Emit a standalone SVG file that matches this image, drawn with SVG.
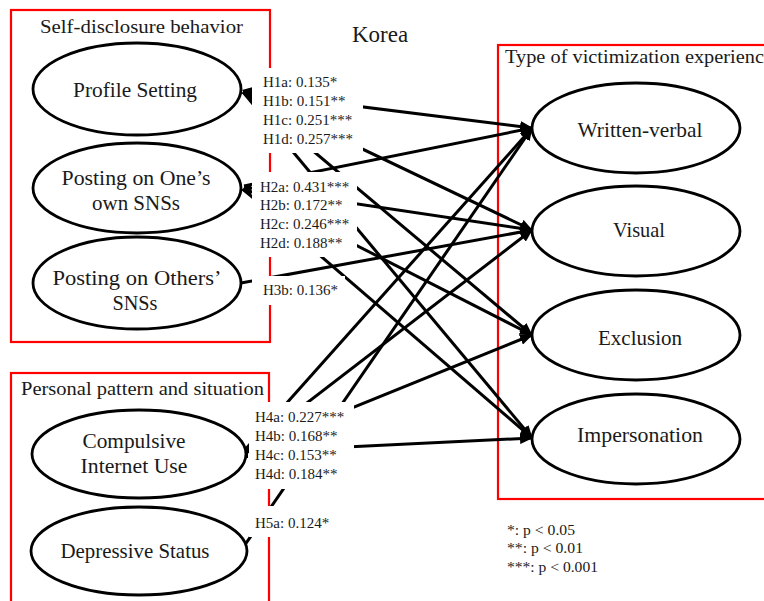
<svg xmlns="http://www.w3.org/2000/svg" width="764" height="601" viewBox="0 0 764 601">
<style>
text{font-family:"Liberation Serif","DejaVu Serif",serif;fill:#1a1a1a}
.box{fill:none;stroke:#ff0000;stroke-width:2.2}
.node{fill:#fff;stroke:#000;stroke-width:2.8}
.nt{font-size:21px;text-anchor:middle}
.gt{font-size:19px}
.lb{font-size:15px}
.lbg{fill:#fff}
.ln{stroke:#000;stroke-width:3;fill:none;marker-end:url(#ah)}
.lg{font-size:14px}
</style>
<defs>
<marker id="ah" markerUnits="userSpaceOnUse" markerWidth="13" markerHeight="11" refX="12" refY="5.5" orient="auto">
<path d="M0,0 L13,5.5 L0,11 z" fill="#000"/>
</marker>
</defs>
<rect width="764" height="601" fill="#fff"/>
<g id="groups">
<rect class="box" x="11" y="10" width="259" height="332"/>
<rect class="box" x="11" y="373" width="258" height="240"/>
<rect class="box" x="498" y="45" width="300" height="454"/>
<text class="gt" x="40" y="33" textLength="203" lengthAdjust="spacingAndGlyphs">Self-disclosure behavior</text>
<text class="gt" x="21" y="395" textLength="243" lengthAdjust="spacingAndGlyphs">Personal pattern and situation</text>
<text class="gt" x="505" y="63" textLength="268" lengthAdjust="spacingAndGlyphs">Type of victimization experience</text>
<text x="380" y="42" style="font-size:23px;text-anchor:middle">Korea</text>
</g>
<g id="connectors">
<line class="ln" x1="243" y1="92" x2="532" y2="128"/>
<line class="ln" x1="243" y1="92" x2="532" y2="230"/>
<line class="ln" x1="243" y1="92" x2="532" y2="335"/>
<line class="ln" x1="243" y1="92" x2="532" y2="438"/>
<line class="ln" x1="244" y1="186" x2="532" y2="128"/>
<line class="ln" x1="244" y1="187" x2="532" y2="230"/>
<line class="ln" x1="244" y1="188" x2="532" y2="335"/>
<line class="ln" x1="244" y1="190" x2="532" y2="438"/>
<line class="ln" x1="241" y1="283" x2="532" y2="230"/>
<line class="ln" x1="243" y1="452" x2="532" y2="128"/>
<line class="ln" x1="243" y1="452" x2="532" y2="230"/>
<line class="ln" x1="243" y1="452" x2="532" y2="335"/>
<line class="ln" x1="243" y1="452" x2="532" y2="438"/>
<line class="ln" x1="240" y1="552" x2="532" y2="128"/>
<polygon points="242,90 253,87 253,102" fill="#000"/>
<polygon points="241,190 251,183 251,197" fill="#000"/>
<polygon points="240,458 248,448 248,458" fill="#000"/>
</g>
<g id="labels-h1">
<rect class="lbg" x="252" y="68" width="111" height="85"/>
<text class="lb" x="263" y="87">H1a: 0.135*</text>
<text class="lb" x="263" y="106">H1b: 0.151**</text>
<text class="lb" x="263" y="125">H1c: 0.251***</text>
<text class="lb" x="263" y="144">H1d: 0.257***</text>
</g>
<g id="labels-h2">
<rect class="lbg" x="252" y="172" width="105" height="85"/>
<text class="lb" x="260" y="192">H2a: 0.431***</text>
<text class="lb" x="260" y="210">H2b: 0.172**</text>
<text class="lb" x="260" y="229">H2c: 0.246***</text>
<text class="lb" x="260" y="248">H2d: 0.188**</text>
</g>
<g id="labels-h3">
<rect class="lbg" x="252" y="276" width="93" height="29"/>
<text class="lb" x="263" y="295">H3b: 0.136*</text>
</g>
<g id="labels-h4">
<rect class="lbg" x="249" y="402" width="105" height="87"/>
<text class="lb" x="255" y="422">H4a: 0.227***</text>
<text class="lb" x="255" y="441">H4b: 0.168**</text>
<text class="lb" x="255" y="460">H4c: 0.153**</text>
<text class="lb" x="255" y="479">H4d: 0.184**</text>
</g>
<g id="labels-h5">
<rect class="lbg" x="249" y="506" width="92" height="31"/>
<text class="lb" x="255" y="528">H5a: 0.124*</text>
</g>
<g id="profile-setting">
<ellipse class="node" cx="137" cy="89" rx="104" ry="46"/>
<text class="nt" x="135" y="97" textLength="124" lengthAdjust="spacingAndGlyphs">Profile Setting</text>
</g>
<g id="posting-own">
<ellipse class="node" cx="137" cy="188" rx="104" ry="45"/>
<text class="nt" x="136" y="185" textLength="149" lengthAdjust="spacingAndGlyphs">Posting on One’s</text>
<text class="nt" x="136" y="210" textLength="88" lengthAdjust="spacingAndGlyphs">own SNSs</text>
</g>
<g id="posting-others">
<ellipse class="node" cx="137" cy="283" rx="104" ry="46"/>
<text class="nt" x="137" y="285" textLength="169" lengthAdjust="spacingAndGlyphs">Posting on Others’</text>
<text class="nt" x="135" y="310" textLength="45" lengthAdjust="spacingAndGlyphs">SNSs</text>
</g>
<g id="compulsive">
<ellipse class="node" cx="139" cy="454" rx="107" ry="44"/>
<text class="nt" x="134" y="448" textLength="103" lengthAdjust="spacingAndGlyphs">Compulsive</text>
<text class="nt" x="134" y="473" textLength="107" lengthAdjust="spacingAndGlyphs">Internet Use</text>
</g>
<g id="depressive">
<ellipse class="node" cx="139" cy="551" rx="108" ry="44"/>
<text class="nt" x="135" y="558" textLength="149" lengthAdjust="spacingAndGlyphs">Depressive Status</text>
</g>
<g id="written-verbal">
<ellipse class="node" cx="636" cy="128" rx="104" ry="45"/>
<text class="nt" x="640" y="137" textLength="125" lengthAdjust="spacingAndGlyphs">Written-verbal</text>
</g>
<g id="visual">
<ellipse class="node" cx="636" cy="231" rx="104" ry="45"/>
<text class="nt" x="639" y="237" textLength="52" lengthAdjust="spacingAndGlyphs">Visual</text>
</g>
<g id="exclusion">
<ellipse class="node" cx="636" cy="335" rx="104" ry="45"/>
<text class="nt" x="640" y="345" textLength="84" lengthAdjust="spacingAndGlyphs">Exclusion</text>
</g>
<g id="impersonation">
<ellipse class="node" cx="636" cy="439" rx="104" ry="45"/>
<text class="nt" x="640" y="442" textLength="126" lengthAdjust="spacingAndGlyphs">Impersonation</text>
</g>
<g id="legend">
<text class="lg" x="507" y="535" textLength="68" lengthAdjust="spacingAndGlyphs">*: p &lt; 0.05</text>
<text class="lg" x="507" y="553" textLength="76" lengthAdjust="spacingAndGlyphs">**: p &lt; 0.01</text>
<text class="lg" x="507" y="572" textLength="91" lengthAdjust="spacingAndGlyphs">***: p &lt; 0.001</text>
</g>
</svg>
